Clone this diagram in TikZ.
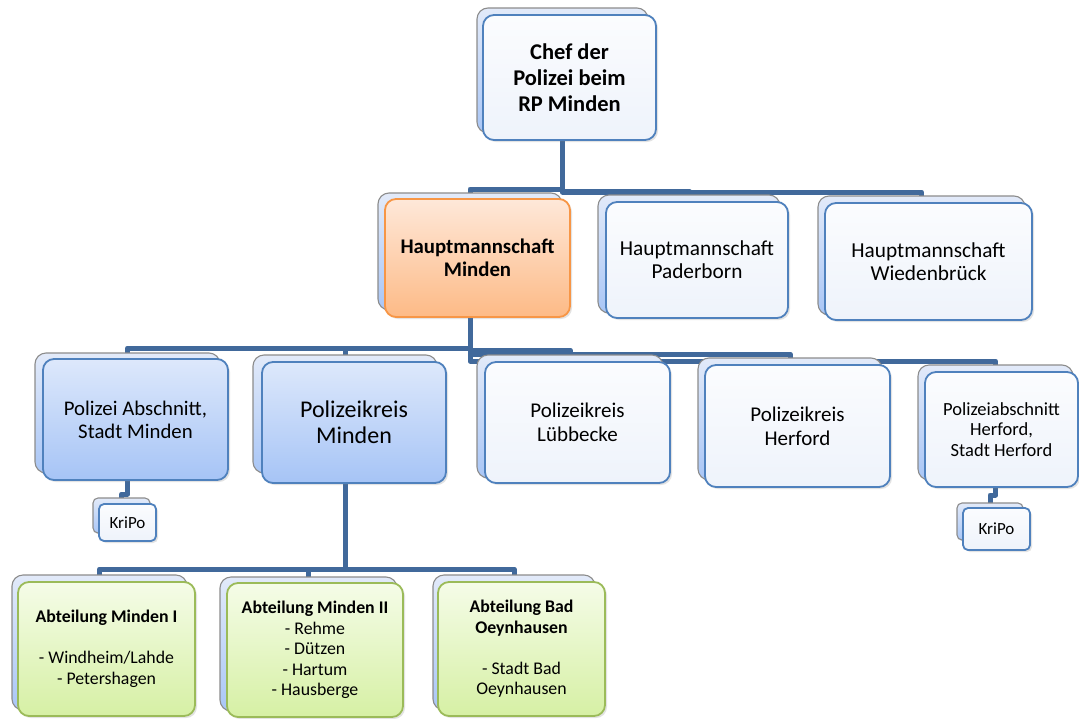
\documentclass[tikz,border=0pt]{standalone}
\usepackage{fontspec}
\setmainfont{Carlito}
\usetikzlibrary{shadows,backgrounds}
\definecolor{conncol}{HTML}{41699B}
\definecolor{bluebrd}{HTML}{4F81BD}
\definecolor{backgray}{HTML}{8C8C8C}
\definecolor{backtop}{HTML}{E2EAF9}
\definecolor{backbot}{HTML}{A9C6F6}
\definecolor{wtop}{HTML}{FBFCFE}
\definecolor{wbot}{HTML}{EEF3FB}
\definecolor{btop}{HTML}{DDE8FB}
\definecolor{bbot}{HTML}{A6C4F6}
\definecolor{otop}{HTML}{FEE8D9}
\definecolor{obot}{HTML}{FDBA86}
\definecolor{obrd}{HTML}{F79646}
\definecolor{gtop}{HTML}{F5FCE8}
\definecolor{gbot}{HTML}{D6F0A4}
\definecolor{gbrd}{HTML}{9BBB59}
\tikzset{
  boxbase/.style={rounded corners=11pt, inner sep=0pt, outer sep=0pt, align=center, text=black},
  backbox/.style={boxbase, draw=backgray, line width=1.1pt, top color=backtop, bottom color=backbot,
    drop shadow={opacity=0.22, shadow xshift=2pt, shadow yshift=-2pt}},
  whitebox/.style={boxbase, draw=bluebrd, line width=1.8pt, top color=wtop, bottom color=wbot,
    drop shadow={opacity=0.22, shadow xshift=2pt, shadow yshift=-2pt}},
  bluebox/.style={boxbase, draw=bluebrd, line width=1.8pt, top color=btop, bottom color=bbot,
    drop shadow={opacity=0.22, shadow xshift=2pt, shadow yshift=-2pt}},
  orangebox/.style={boxbase, draw=obrd, line width=1.8pt, top color=otop, bottom color=obot,
    drop shadow={opacity=0.22, shadow xshift=2pt, shadow yshift=-2pt}},
  greenbox/.style={boxbase, draw=gbrd, line width=1.8pt, top color=gtop, bottom color=gbot,
    drop shadow={opacity=0.22, shadow xshift=2pt, shadow yshift=-2pt}},
  smallback/.style={backbox, rounded corners=5pt},
  smallwhite/.style={whitebox, rounded corners=5pt},
  conn/.style={draw=conncol, line width=5pt, line join=round},
}
\newcommand\bx[7]{\node[#6, minimum width={(#4)-(#2)}, minimum height={(#5)-(#3)}] (#1) at ({((#2)+(#4))/2},{((#3)+(#5))/2}) {#7};}
\begin{document}
\begin{tikzpicture}[x=1pt,y=-1pt]
\useasboundingbox (0,0) rectangle (1079,718);
\begin{scope}[on background layer]
\fill[white] (0,0) rectangle (1079,718);
\end{scope}
% level 0
\bx{chef-b}{477}{8}{648}{133}{backbox}{}
\bx{chef}{483}{15}{656}{140}{whitebox, font=\fontsize{22.5}{26}\selectfont\bfseries}{Chef der\\Polizei beim\\RP Minden}
% level 1
\bx{hm-b}{378}{193}{562}{310}{backbox}{}
\bx{hm}{385}{199}{570}{317}{orangebox, font=\fontsize{20.8}{23}\selectfont\bfseries}{Hauptmannschaft\\Minden}
\bx{pd-b}{598}{195}{780}{313}{backbox}{}
\bx{pd}{606}{202}{788}{318}{whitebox, font=\fontsize{21.3}{23}\selectfont}{Hauptmannschaft\\Paderborn}
\bx{wd-b}{818}{196}{1025}{315}{backbox}{}
\bx{wd}{825}{203}{1032}{320}{whitebox, font=\fontsize{21.3}{23}\selectfont}{Hauptmannschaft\\Wiedenbrück}
% level 2
\bx{pa-b}{35}{353}{220}{473}{backbox}{}
\bx{pa}{43}{359}{228}{480}{bluebox, font=\fontsize{20.8}{23}\selectfont}{Polizei Abschnitt,\\Stadt Minden}
\bx{pk-b}{253}{355}{437}{473}{backbox}{}
\bx{pk}{262}{362}{446}{483}{bluebox, font=\fontsize{24}{26}\selectfont}{Polizeikreis\\Minden}
\bx{lb-b}{477}{355}{663}{478}{backbox}{}
\bx{lb}{485}{362}{670}{483}{whitebox, font=\fontsize{21}{24}\selectfont}{Polizeikreis\\Lübbecke}
\bx{hf-b}{698}{358}{882}{480}{backbox}{}
\bx{hf}{705}{365}{890}{487}{whitebox, font=\fontsize{21}{24}\selectfont}{Polizeikreis\\Herford}
\bx{ph-b}{918}{365}{1073}{480}{backbox}{}
\bx{ph}{925}{372}{1078}{487}{whitebox, font=\fontsize{18.5}{20.5}\selectfont}{Polizeiabschnitt\\Herford,\\Stadt Herford}
\bx{k1-b}{93}{498}{150}{533}{smallback}{}
\bx{k1}{99}{504}{156}{541}{smallwhite, font=\fontsize{17}{20}\selectfont}{KriPo}
\bx{k2-b}{957}{503}{1023}{540}{smallback}{}
\bx{k2}{963}{508}{1030}{550}{smallwhite, font=\fontsize{17}{20}\selectfont}{KriPo}
% level 3
\bx{a1-b}{12}{575}{187}{710}{backbox}{}
\bx{a1}{18}{582}{195}{716}{greenbox, font=\fontsize{17.8}{20.5}\selectfont}{\textbf{Abteilung Minden I}\\~\\- Windheim/Lahde\\- Petershagen}
\bx{a2-b}{220}{577}{397}{711}{backbox}{}
\bx{a2}{227}{583}{403}{717}{greenbox, font=\fontsize{17.8}{20.5}\selectfont}{\textbf{Abteilung Minden II}\\- Rehme\\- Dützen\\- Hartum\\- Hausberge}
\bx{a3-b}{433}{575}{595}{710}{backbox}{}
\bx{a3}{438}{582}{605}{716}{greenbox, font=\fontsize{17.8}{20.5}\selectfont}{\textbf{Abteilung Bad}\\\textbf{Oeynhausen}\\~\\- Stadt Bad\\Oeynhausen}
% connectors
\begin{scope}[on background layer]
\coordinate (y1a) at (0,189);
\coordinate (y1b) at (0,191);
\coordinate (y1c) at (0,192);
\draw[conn] (chef-b.south) -- (chef-b.south |- y1a) -| (hm-b.north);
\draw[conn] (chef-b.south) -- (chef-b.south |- y1b) -| (pd-b.north);
\draw[conn] (chef-b.south) -- (chef-b.south |- y1c) -| (wd-b.north);
\coordinate (y2a) at (0,348);
\coordinate (y2b) at (0,350);
\coordinate (y2c) at (0,354);
\coordinate (y2d) at (0,361);
\draw[conn] (hm-b.south) -- (hm-b.south |- y2a) -| (pa-b.north);
\draw[conn] (hm-b.south) -- (hm-b.south |- y2a) -| (pk-b.north);
\draw[conn] (hm-b.south) -- (hm-b.south |- y2b) -| (lb-b.north);
\draw[conn] (hm-b.south) -- (hm-b.south |- y2c) -| (hf-b.north);
\draw[conn] (hm-b.south) -- (hm-b.south |- y2d) -| (ph-b.north);
\coordinate (yk1) at (0,494);
\coordinate (yk2) at (0,495);
\draw[conn] (pa-b.south) -- (pa-b.south |- yk1) -| (k1-b.north);
\draw[conn] (ph-b.south) -- (ph-b.south |- yk2) -| (k2-b.north);
\coordinate (y3) at (0,569);
\draw[conn] (pk-b.south) -- (pk-b.south |- y3) -| (a1-b.north);
\draw[conn] (pk-b.south) -- (pk-b.south |- y3) -| (a2-b.north);
\draw[conn] (pk-b.south) -- (pk-b.south |- y3) -| (a3-b.north);
\end{scope}
\end{tikzpicture}
\end{document}
